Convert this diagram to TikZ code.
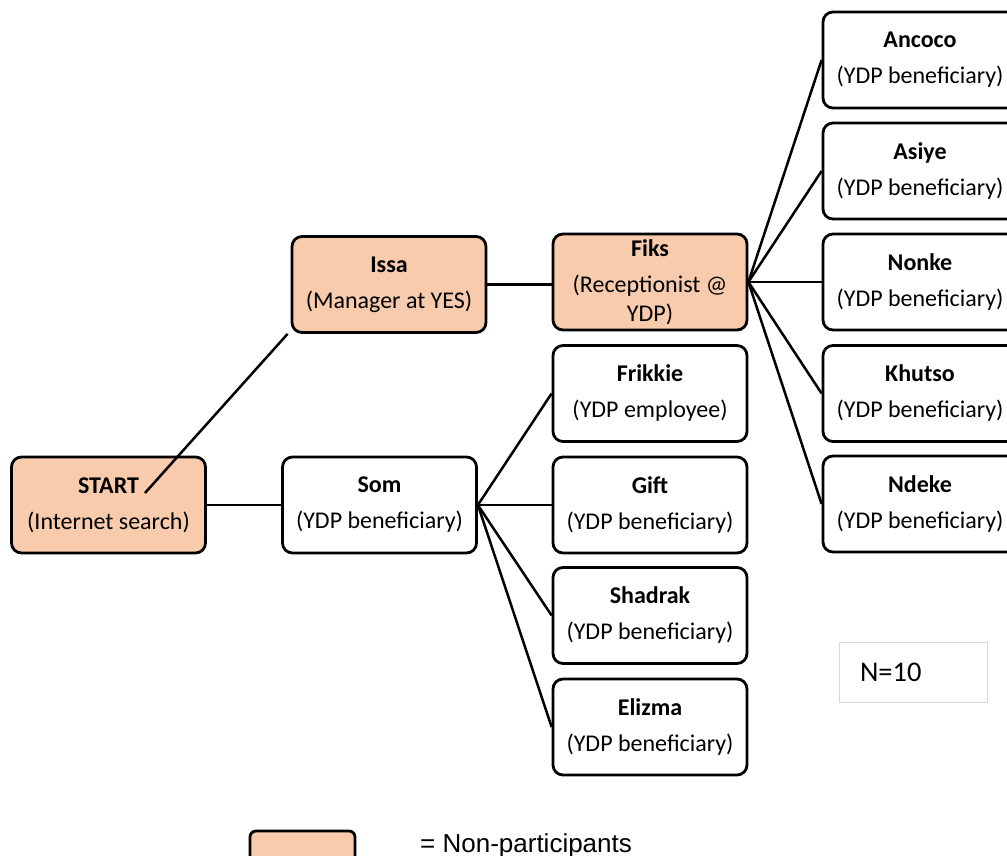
\documentclass[tikz,border=0pt]{standalone}
\usepackage{fontspec}
\setmainfont{Carlito}
\newfontfamily\arialfont{Liberation Sans}
\definecolor{npfill}{HTML}{F8CBAD}
\definecolor{nborder}{HTML}{D9D9D9}
\begin{document}
\begin{tikzpicture}[x=1pt,y=-1pt,
  box/.style={draw, line width=2.8pt, rounded corners=10pt, minimum width=194pt,
    minimum height=96pt, align=center, inner sep=0pt, fill=white,
    font=\fontsize{24}{29}\selectfont},
  np/.style={box, fill=npfill},
  rbox/.style={box, text depth=0pt, yshift=0pt},
  link/.style={line width=2.5pt}]
\useasboundingbox (0,0) rectangle (1007,856);
\clip (0,0) rectangle (1007,856);
\coordinate (sl) at (145,493);
% nodes
\node[np] (start) at (108.5,505) {\textbf{START}\\[7pt](Internet search)};
\node[np] (issa) at (389,284.5) {\textbf{Issa}\\[7pt](Manager at YES)};
\node[box] (som) at (379.5,505) {\textbf{Som}\\[7pt](YDP beneficiary)};
\node[np] (fiks) at (650,282) {\textbf{Fiks}\\[7pt](Receptionist @\\YDP)};
\node[box] (frikkie) at (650,393.5) {\textbf{Frikkie}\\[7pt](YDP employee)};
\node[box] (gift) at (650,505) {\textbf{Gift}\\[7pt](YDP beneficiary)};
\node[box] (shadrak) at (650,615.5) {\textbf{Shadrak}\\[7pt](YDP beneficiary)};
\node[box] (elizma) at (650,727) {\textbf{Elizma}\\[7pt](YDP beneficiary)};
\node[box] (ancoco) at (920,60) {\textbf{Ancoco}\\[7pt](YDP beneficiary)};
\node[box] (asiye) at (920,171) {\textbf{Asiye}\\[7pt](YDP beneficiary)};
\node[box] (nonke) at (920,282) {\textbf{Nonke}\\[7pt](YDP beneficiary)};
\node[box] (khutso) at (920,393.5) {\textbf{Khutso}\\[7pt](YDP beneficiary)};
\node[box] (ndeke) at (920,504) {\textbf{Ndeke}\\[7pt](YDP beneficiary)};
% links
\draw[link] (sl) -- ([xshift=-3pt]issa.south west);
\draw[link] (start.east) -- (som.west);
\draw[link] (issa.east) -- (issa.east -| fiks.west);
\foreach \t in {frikkie,gift,shadrak,elizma} \draw[link] (som.east) -- (\t.west);
\foreach \t in {ancoco,asiye,nonke,khutso,ndeke} \draw[link] (fiks.east) -- (\t.west);
% N box
\node[draw=nborder, line width=1pt, minimum width=148pt, minimum height=60pt,
  text width=106pt, inner xsep=21pt, inner ysep=0pt, align=left,
  font=\fontsize{28.5}{32}\selectfont] (nbox) at (913,672) {N=10};
% legend
\node[draw, line width=2.8pt, rounded corners=6pt, fill=npfill, minimum width=105pt,
  minimum height=50pt, inner sep=0pt] (legbox) at (302.5,856) {};
\node[anchor=base west, inner sep=0pt, font=\arialfont\fontsize{26}{30}\selectfont] (legtext) at (420,852) {= Non-participants};
\end{tikzpicture}
\end{document}
